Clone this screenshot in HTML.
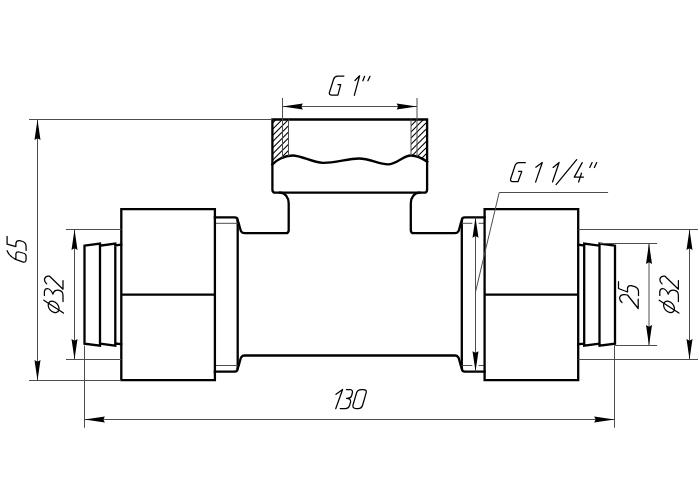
<!DOCTYPE html>
<html><head><meta charset="utf-8"><style>
html,body{margin:0;padding:0;background:#fff;}
svg{display:block;}
.tk{fill:none;stroke:#000;stroke-width:2.3;stroke-linejoin:miter;stroke-linecap:square;}
.tn{fill:none;stroke:#4d4d4d;stroke-width:1.0;}
.ht{fill:none;stroke:#000;stroke-width:1.05;}
.tx{fill:none;stroke:#000;stroke-width:1.25;stroke-linejoin:round;stroke-linecap:round;}
.ar{fill:#000;stroke:none;}
</style></head><body>
<svg width="700" height="500" viewBox="0 0 700 500">
<rect width="700" height="500" fill="#fff"/>
<path class="tk" d="M272.4,119.5 L427.1,119.5 L427.1,189.7 Q427.1,192.7 424.1,192.7 L275.4,192.7 Q272.4,192.7 272.4,189.7 Z"/>
<path class="tk" d="M272.4,164.4 C276,160.5 284,155.6 292.5,155.5 C302,155.5 312,162.6 323,162.8 C335,163 348,158.5 359,158.5 C370,158.5 379,164.5 388,164.4 C397,164.3 403,155.5 411,155.5 C418,155.5 424,159.5 427.2,161.8"/>
<defs><clipPath id="above"><path d="M200,90 L272.4,90 L272.4,164.4 C276,160.5 284,155.6 292.5,155.5 C302,155.5 312,162.6 323,162.8 C335,163 348,158.5 359,158.5 C370,158.5 379,164.5 388,164.4 C397,164.3 403,155.5 411,155.5 C418,155.5 424,159.5 427.2,161.8 L427.2,90 Z"/></clipPath><clipPath id="hl"><rect x="272.4" y="119.5" width="16.100000000000023" height="60"/></clipPath><clipPath id="hr"><rect x="411.0" y="119.5" width="16.100000000000023" height="60"/></clipPath></defs>
<g clip-path="url(#above)"><g clip-path="url(#hl)"><path class="ht" d="M232.39999999999998,95.00 L312.4,15.00 M232.39999999999998,101.20 L312.4,21.20 M232.39999999999998,107.40 L312.4,27.40 M232.39999999999998,113.60 L312.4,33.60 M232.39999999999998,119.80 L312.4,39.80 M232.39999999999998,126.00 L312.4,46.00 M232.39999999999998,132.20 L312.4,52.20 M232.39999999999998,138.40 L312.4,58.40 M232.39999999999998,144.60 L312.4,64.60 M232.39999999999998,150.80 L312.4,70.80 M232.39999999999998,157.00 L312.4,77.00 M232.39999999999998,163.20 L312.4,83.20 M232.39999999999998,169.40 L312.4,89.40 M232.39999999999998,175.60 L312.4,95.60 M232.39999999999998,181.80 L312.4,101.80 M232.39999999999998,188.00 L312.4,108.00 M232.39999999999998,194.20 L312.4,114.20 M232.39999999999998,200.40 L312.4,120.40 M232.39999999999998,206.60 L312.4,126.60 M232.39999999999998,212.80 L312.4,132.80 M232.39999999999998,219.00 L312.4,139.00 M232.39999999999998,225.20 L312.4,145.20 M232.39999999999998,231.40 L312.4,151.40 M232.39999999999998,237.60 L312.4,157.60 M232.39999999999998,243.80 L312.4,163.80 M232.39999999999998,250.00 L312.4,170.00 M232.39999999999998,256.20 L312.4,176.20 M232.39999999999998,262.40 L312.4,182.40 M232.39999999999998,268.60 L312.4,188.60 M232.39999999999998,274.80 L312.4,194.80"/></g></g>
<g clip-path="url(#above)"><g clip-path="url(#hr)"><path class="ht" d="M371.0,97.50 L451.0,17.50 M371.0,103.70 L451.0,23.70 M371.0,109.90 L451.0,29.90 M371.0,116.10 L451.0,36.10 M371.0,122.30 L451.0,42.30 M371.0,128.50 L451.0,48.50 M371.0,134.70 L451.0,54.70 M371.0,140.90 L451.0,60.90 M371.0,147.10 L451.0,67.10 M371.0,153.30 L451.0,73.30 M371.0,159.50 L451.0,79.50 M371.0,165.70 L451.0,85.70 M371.0,171.90 L451.0,91.90 M371.0,178.10 L451.0,98.10 M371.0,184.30 L451.0,104.30 M371.0,190.50 L451.0,110.50 M371.0,196.70 L451.0,116.70 M371.0,202.90 L451.0,122.90 M371.0,209.10 L451.0,129.10 M371.0,215.30 L451.0,135.30 M371.0,221.50 L451.0,141.50 M371.0,227.70 L451.0,147.70 M371.0,233.90 L451.0,153.90 M371.0,240.10 L451.0,160.10 M371.0,246.30 L451.0,166.30 M371.0,252.50 L451.0,172.50 M371.0,258.70 L451.0,178.70 M371.0,264.90 L451.0,184.90 M371.0,271.10 L451.0,191.10 M371.0,277.30 L451.0,197.30"/></g></g>
<g clip-path="url(#above)"><path class="tn" d="M288.5,119.5 L288.5,170 M411.0,119.5 L411.0,170 M282.5,98 L282.5,170 M417.0,98 L417.0,170"/></g>
<path class="tk" d="M237.7,220.5 C239.3,224 240.2,230.2 241.2,231.5 C242,232.8 242.8,233.2 244.5,233.2 L285.7,233.2 Q288.7,233.2 288.7,230.2 L288.7,203.6 C288.7,197 285,192.7 280,192.7"/>
<path class="tk" d="M461.8,220.5 C460.2,224 459.3,230.2 458.3,231.5 C457.5,232.8 456.7,233.2 455.0,233.2 L413.8,233.2 Q410.8,233.2 410.8,230.2 L410.8,203.6 C410.8,197 414.5,192.7 419.5,192.7"/>
<path class="tk" d="M237.7,368.30 C239.3,364.80 240.2,358.60 241.2,357.30 C242,356.00 242.8,355.5 244.5,355.5 L455.0,355.5 C456.7,355.5 457.5,356.00 458.3,357.30 C459.3,358.60 460.2,364.80 461.8,368.30"/>
<path class="tk" d="M214.9,217.3 L234.7,217.3 Q237.7,217.3 237.7,220.3 L237.7,368.6 Q237.7,371.6 234.7,371.6 L214.9,371.6"/>
<path class="tn" d="M214.9,223.3 L237.7,223.3"/>
<path class="tn" d="M214.9,365.5 L237.7,365.5"/>
<path class="tk" d="M484.6,217.3 L464.8,217.3 Q461.8,217.3 461.8,220.3 L461.8,368.6 Q461.8,371.6 464.8,371.6 L484.6,371.6"/>
<path class="tn" d="M461.8,223.3 L472.3,223.3"/>
<path class="tn" d="M478.7,223.3 L484.6,223.3"/>
<path class="tn" d="M461.8,365.5 L472.3,365.5"/>
<path class="tn" d="M478.7,365.5 L484.6,365.5"/>
<path class="tk" d="M121.3,209.2 L214.9,209.2 L214.9,380.2 L121.3,380.2 Z M121.3,294.6 L214.9,294.6"/>
<path class="tk" d="M484.6,209.2 L578.2,209.2 L578.2,380.2 L484.6,380.2 Z M484.6,294.6 L578.2,294.6"/>
<path class="tk" d="M84.5,245.7 L100.0,243.5 L100.0,345.7 L84.5,343.7 Z M100.0,245.7 L115.3,243.5 L115.3,345.7 L100.0,343.7 M115.3,245.5 L121.2,244.7 M115.3,343.5 L121.2,344.3"/>
<path class="tk" d="M615.0,245.7 L599.5,243.5 L599.5,345.7 L615.0,343.7 Z M599.5,245.7 L584.2,243.5 L584.2,345.7 L599.5,343.7 M584.2,245.5 L578.3,244.7 M584.2,343.5 L578.3,344.3"/>
<path class="tn" d="M37.5,119.5 L37.5,380.5"/>
<path class="tn" d="M29.0,119.5 L272.4,119.5"/>
<path class="tn" d="M29.0,380.5 L121.3,380.5"/>
<path class="ar" d="M37.50,119.50 L40.50,139.90 L37.50,138.30 L34.50,139.90 Z"/>
<path class="ar" d="M37.50,380.50 L34.50,360.10 L37.50,361.70 L40.50,360.10 Z"/>
<path class="tn" d="M74.5,229.5 L74.5,359.5"/>
<path class="tn" d="M66.0,229.5 L121.3,229.5"/>
<path class="tn" d="M66.0,359.5 L121.3,359.5"/>
<path class="ar" d="M74.50,229.50 L77.50,249.90 L74.50,248.30 L71.50,249.90 Z"/>
<path class="ar" d="M74.50,359.50 L71.50,339.10 L74.50,340.70 L77.50,339.10 Z"/>
<path class="tn" d="M84.5,345.5 L84.5,427.7"/>
<path class="tn" d="M614.5,345.5 L614.5,427.7"/>
<path class="tn" d="M84.5,419.5 L614.5,419.5"/>
<path class="ar" d="M84.50,419.50 L104.90,416.50 L103.30,419.50 L104.90,422.50 Z"/>
<path class="ar" d="M614.50,419.50 L594.10,422.50 L595.70,419.50 L594.10,416.50 Z"/>
<path class="tn" d="M600,243.5 L657.2,243.5"/>
<path class="tn" d="M614.5,345.5 L657.2,345.5"/>
<path class="tn" d="M649.0,243.5 L649.0,345.5"/>
<path class="ar" d="M649.00,243.50 L652.00,263.90 L649.00,262.30 L646.00,263.90 Z"/>
<path class="ar" d="M649.00,345.50 L646.00,325.10 L649.00,326.70 L652.00,325.10 Z"/>
<path class="tn" d="M578.2,229.5 L698.0,229.5"/>
<path class="tn" d="M578.2,359.5 L698.0,359.5"/>
<path class="tn" d="M689.5,229.5 L689.5,359.5"/>
<path class="ar" d="M689.50,229.50 L692.50,249.90 L689.50,248.30 L686.50,249.90 Z"/>
<path class="ar" d="M689.50,359.50 L686.50,339.10 L689.50,340.70 L692.50,339.10 Z"/>
<path class="tn" d="M282.5,106.5 L417.0,106.5"/>
<path class="ar" d="M282.50,106.50 L302.90,103.50 L301.30,106.50 L302.90,109.50 Z"/>
<path class="ar" d="M417.00,106.50 L396.60,109.50 L398.20,106.50 L396.60,103.50 Z"/>
<path class="tn" d="M475.5,217.3 L475.5,371.6"/>
<path class="ar" d="M475.50,217.30 L478.50,237.70 L475.50,236.10 L472.50,237.70 Z"/>
<path class="ar" d="M475.50,371.60 L472.50,351.20 L475.50,352.80 L478.50,351.20 Z"/>
<path class="tn" d="M475.5,292 L499.2,192.5 L608.1,192.5"/>
<path class="tx" d="M343.9,76.1 L337.6,76.1 Q334.6,76.1 333.6,79.3 L329.4,92.5 Q328.9,95.1 331.8,95.1 L337.9,95.1 L340.7,84.6 L337.9,84.6 M355.0,80.5 L359.6,75.8 L354.3,95.3 M364.6,76.3 L362.9,80.8 M370.0,76.3 L367.9,80.8 M525.3,162.7 L519.0,162.7 Q516.0,162.7 514.8,166.2 L510.7,178.8 Q510.0,181.7 512.7,181.7 L518.0,181.7 L521.8,171.4 L518.6,171.4 M535.8,167.2 L542.3,162.5 L535.6,182.1 M553.1,167.4 L559.1,162.5 L552.5,182.0 M556.1,184.6 L576.7,159.7 M582.2,162.6 L574.3,177.1 L583.5,177.1 M581.5,173.1 L578.6,182.0 M592.1,162.6 L589.8,167.5 M596.7,162.6 L594.4,167.5 M336.0,394.3 L342.6,389.5 L335.7,408.7 M346.4,389.5 L349.8,389.5 Q352.8,389.6 352.4,392.5 L351.7,395.5 Q351.0,398.4 346.6,398.4 M346.6,398.4 Q350.8,398.6 350.6,401.8 L349.6,405.3 Q348.6,408.6 345.6,408.6 L340.2,408.6 M356.6,392.8 Q357.6,389.5 361.4,389.5 L363.2,389.5 Q366.8,389.5 366.2,392.6 L362.8,404.5 Q361.8,408.6 358.0,408.6 L356.0,408.6 Q352.4,408.6 353.0,405.0 Z M7.1,236.4 L7.1,244.2 L15.9,246.6 L15.9,243.5 Q16.2,240.4 19.5,240.6 L22.8,241.5 Q26.1,242.8 26.1,246.5 L26.1,250.4 M7.1,250.7 Q9.5,256.5 15.6,259.4 L22.6,261.8 Q26.1,262.8 26.1,259.3 L26.1,256.4 Q26.1,253.7 23.0,253.0 L19.0,252.0 Q15.9,251.4 15.9,254.5 L15.9,259.6 M46.70,283.9 Q44.00,281.5 44.60,278.8 Q45.60,275.6 49.60,276.2 L63.00,289.2 L63.00,280.5 M44.40,295.4 L44.40,291.4 Q44.80,288.5 47.40,288.5 Q50.60,288.8 52.90,294.2 Q54.00,290.0 58.00,290.2 Q62.80,290.6 63.00,295.2 L63.00,301.6 M43.80,300.2 L63.50,313.1 M662.10,283.9 Q659.40,281.5 660.00,278.8 Q661.00,275.6 665.00,276.2 L678.40,289.2 L678.40,280.5 M659.80,295.4 L659.80,291.4 Q660.20,288.5 662.80,288.5 Q666.00,288.8 668.30,294.2 Q669.40,290.0 673.40,290.2 Q678.20,290.6 678.40,295.2 L678.40,301.6 M659.20,300.2 L678.90,313.1 M622.0,302.5 Q619.4,300.2 619.6,297.6 Q620.4,294.4 624.4,294.6 L627.5,295.0 L638.2,308.5 L638.2,299.0 M618.5,281.5 L618.5,288.5 L627.5,292.0 L627.5,288.2 Q627.8,285.4 631.0,285.6 L634.8,286.6 Q638.5,288.0 638.5,291.8 L638.5,295.5"/>
<ellipse class="tx" cx="53.6" cy="306.9" rx="6.4" ry="4.6" transform="rotate(50 53.6 306.9)"/>
<ellipse class="tx" cx="669.0" cy="306.9" rx="6.4" ry="4.6" transform="rotate(50 669.0 306.9)"/>
</svg>
</body></html>
